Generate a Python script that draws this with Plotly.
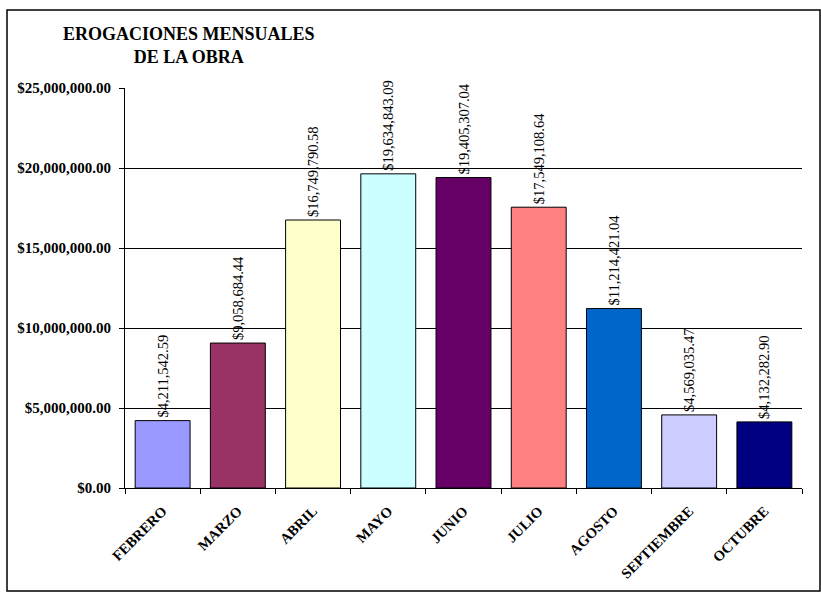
import plotly.graph_objects as go

meses = ["FEBRERO", "MARZO", "ABRIL", "MAYO", "JUNIO", "JULIO", "AGOSTO", "SEPTIEMBRE", "OCTUBRE"]
erogaciones = [4211542.59, 9058684.44, 16749790.58, 19634843.09, 19405307.04,
               17549108.64, 11214421.04, 4569035.47, 4132282.90]
colores = ["#9999FF", "#993366", "#FFFFCC", "#CCFFFF", "#660066",
           "#FF8080", "#0066CC", "#CCCCFF", "#000080"]
y_ticks = [0, 5000000, 10000000, 15000000, 20000000, 25000000]

serif = "Liberation Serif, Times New Roman, serif"

fig = go.Figure()
fig.add_trace(go.Bar(
    x=meses, y=erogaciones,
    marker=dict(color=colores, line=dict(color="black", width=1)),
    texttemplate="$%{y:,.2f}",
    textposition="outside",
    textangle=-90,
    constraintext="none",
    cliponaxis=False,
    textfont=dict(family=serif, size=14.5, color="black"),
    hoverinfo="skip",
))

fig.update_layout(
    width=821, height=593,
    margin=dict(l=125, r=19, t=88, b=105),
    paper_bgcolor="white", plot_bgcolor="white",
    bargap=0.27,
    showlegend=False,
    font=dict(family=serif, color="black"),
)

fig.update_yaxes(
    range=[0, 25000000], tickvals=y_ticks, tickformat="$,.2f",
    showgrid=True, gridcolor="black", gridwidth=1,
    showline=True, linecolor="black", linewidth=1,
    ticks="outside", ticklen=5, tickcolor="black",
    ticklabelstandoff=5,
    tickfont=dict(family=serif, size=15, color="black", weight="bold"),
    zeroline=False, fixedrange=True,
)
fig.update_xaxes(
    tickangle=-45, tickson="boundaries",
    showline=True, linecolor="black", linewidth=1,
    ticks="outside", ticklen=5, tickcolor="black",
    ticklabelstandoff=8,
    tickfont=dict(family=serif, size=14.5, color="black", weight="bold"),
    fixedrange=True,
)

# titulo en dos lineas arriba a la izquierda
fig.add_annotation(
    text="EROGACIONES MENSUALES<br>DE LA OBRA",
    xref="paper", yref="paper", x=(189 - 125) / 677, y=(488 - 45) / 400,
    xanchor="center", yanchor="middle", showarrow=False, align="center",
    font=dict(family=serif, size=18, color="black", weight="bold"),
)

# marco exterior del grafico
fig.add_shape(type="rect", xref="paper", yref="paper",
              x0=(7 - 125) / 677, x1=(820 - 125) / 677,
              y0=(488 - 591) / 400, y1=(488 - 10) / 400,
              line=dict(color="black", width=1.5))

fig.write_html("out.html", config={"displayModeBar": False},
               post_script="document.body.style.margin='0';")
